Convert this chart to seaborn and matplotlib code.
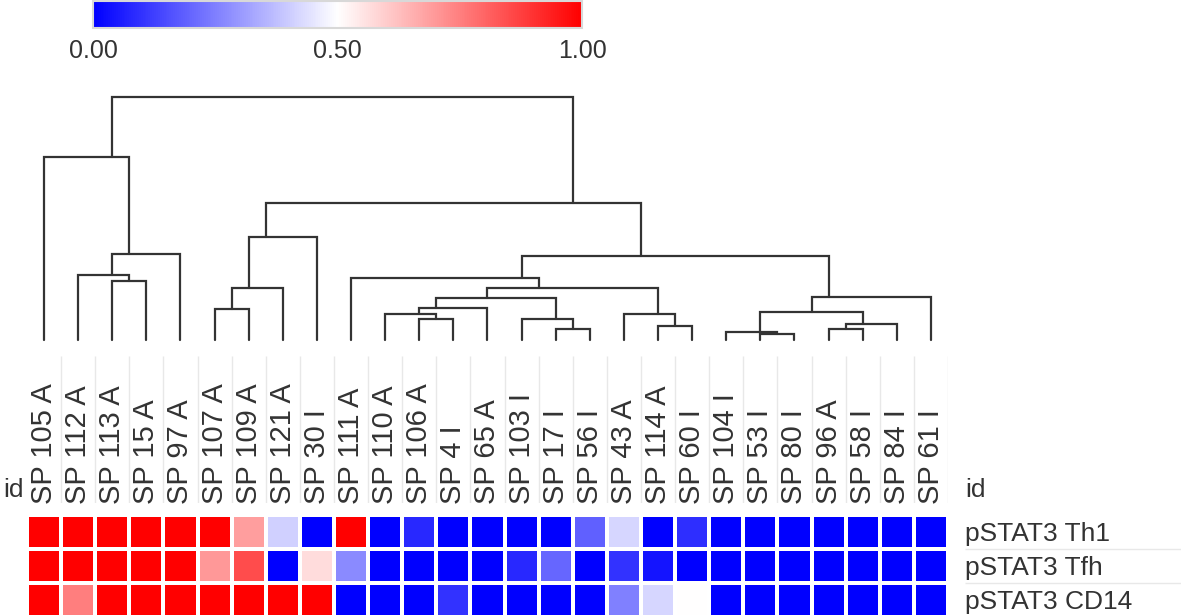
import numpy as np
import pandas as pd
import matplotlib
matplotlib.use("Agg")
import matplotlib.pyplot as plt
import seaborn as sns

# column (sample) order as shown under the dendrogram
samples = ["SP 105 A", "SP 112 A", "SP 113 A", "SP 15 A", "SP 97 A", "SP 107 A",
           "SP 109 A", "SP 121 A", "SP 30 I", "SP 111 A", "SP 110 A", "SP 106 A",
           "SP 4 I", "SP 65 A", "SP 103 I", "SP 17 I", "SP 56 I", "SP 43 A",
           "SP 114 A", "SP 60 I", "SP 104 I", "SP 53 I", "SP 80 I", "SP 96 A",
           "SP 58 I", "SP 84 I", "SP 61 I"]
rows = ["pSTAT3 Th1", "pSTAT3 Tfh", "pSTAT3 CD14"]

th1 = [1, 1, 1, 1, 1, 1, 0.69, 0.41, 0, 1, 0, 0.08, 0, 0, 0, 0, 0.19, 0.42,
       0, 0.09, 0, 0, 0, 0, 0, 0, 0]
tfh = [1, 1, 1, 1, 1, 0.70, 0.85, 0, 0.57, 0.27, 0, 0, 0, 0, 0.08, 0.20, 0,
       0.10, 0.04, 0, 0, 0, 0, 0, 0, 0, 0]
cd14 = [1, 0.75, 1, 1, 1, 1, 1, 1, 1, 0, 0, 0, 0.10, 0, 0, 0, 0, 0.25, 0.42,
        0.5, 0, 0, 0, 0, 0, 0, 0]

# linkage (scipy style): node ids >= 27 are earlier merges, in this order
link_left = [21, 20, 15, 23, 18, 30, 11, 14, 10, 17, 28, 5, 35, 39, 37, 38,
             40, 2, 9, 1, 45, 46, 42, 49, 0, 51]
link_right = [22, 27, 16, 24, 19, 25, 12, 29, 33, 31, 32, 6, 13, 34, 26, 7,
              36, 3, 43, 44, 41, 4, 8, 47, 48, 50]
link_height = [0.026, 0.033, 0.045, 0.045, 0.056, 0.064, 0.086, 0.086, 0.105,
               0.105, 0.116, 0.127, 0.132, 0.173, 0.175, 0.216, 0.216, 0.244,
               0.255, 0.266, 0.345, 0.352, 0.424, 0.563, 0.754, 1.0]

W, H = 1181, 616
TXT = "#333333"


def box(x0, y0, x1, y1):
    # pixel box (top-left origin) -> figure fraction rect
    return [x0 / W, 1 - y1 / H, (x1 - x0) / W, (y1 - y0) / H]


sns.set_style("white")
plt.rcParams["font.family"] = ["Liberation Sans", "DejaVu Sans"]

fig = plt.figure(figsize=(W / 100, H / 100), dpi=100)

ax_hm = fig.add_axes(box(27, 515, 948, 617))
ax_cb = fig.add_axes(box(93, 1, 582, 28))
ax_dg = fig.add_axes(box(27, 97, 948, 340))
ax_sep = fig.add_axes(box(27, 356, 948, 503))
ax_rs = fig.add_axes(box(965, 515, 1181, 617))

df = pd.DataFrame([th1, tfh, cd14], index=rows, columns=samples)

sns.heatmap(df, ax=ax_hm, cmap="bwr", vmin=0, vmax=1, linewidths=1.5,
            linecolor="white", cbar_ax=ax_cb,
            cbar_kws={"orientation": "horizontal", "ticks": [0, 0.5, 1],
                      "format": "%.2f"})

ax_hm.xaxis.tick_top()
ax_hm.yaxis.tick_right()
ax_hm.set_xlabel("")
ax_hm.set_ylabel("")
ax_hm.set_xticks(np.arange(len(samples)) + 0.5)
ax_hm.set_xticklabels(samples, rotation=90, fontsize=21, color=TXT)
ax_hm.set_yticks(np.arange(len(rows)) + 0.5)
ax_hm.set_yticklabels(rows, rotation=0, fontsize=19, color=TXT, ha="left")
ax_hm.tick_params(axis="x", length=0, pad=8, top=True, bottom=False,
                  labeltop=True, labelbottom=False)
ax_hm.tick_params(axis="y", length=0, pad=12, right=True, left=False,
                  labelright=True, labelleft=False)

# colorbar styling
cb = ax_hm.collections[0].colorbar
cb.outline.set_edgecolor("#d8d8d8")
cb.outline.set_linewidth(1.5)
ax_cb.tick_params(length=0, pad=8, labelsize=18, labelcolor=TXT)

# dendrogram from the linkage lists
n = len(samples)
pos = {i: i + 0.5 for i in range(n)}
hgt = {i: 0.0 for i in range(n)}
members = {i: [i] for i in range(n)}
for k, (a, b, h) in enumerate(zip(link_left, link_right, link_height)):
    node = n + k
    xa, xb = pos[a], pos[b]
    ax_dg.plot([xa, xa, xb, xb], [hgt[a], h, h, hgt[b]], color="#333333",
               lw=1.6, solid_joinstyle="miter", clip_on=False)
    members[node] = members[a] + members[b]
    pos[node] = np.mean([m + 0.5 for m in members[node]])
    hgt[node] = h
ax_dg.set_xlim(0, n)
ax_dg.set_ylim(0, 1)
ax_dg.axis("off")

# faint separators between column labels
ax_sep.vlines(np.arange(1, n + 1), 0, 1, color="#e8e8e8", lw=1)
ax_sep.set_xlim(0, n)
ax_sep.set_ylim(0, 1)
ax_sep.axis("off")

# faint separators between row labels
ax_rs.hlines([1, 2], 0, 1, color="#e8e8e8", lw=1)
ax_rs.set_xlim(0, 1)
ax_rs.set_ylim(3, 0)
ax_rs.axis("off")

fig.text(3 / W, 1 - 490 / H, "id", fontsize=19, color=TXT, va="center", ha="left")
fig.text(965 / W, 1 - 490 / H, "id", fontsize=19, color=TXT, va="center", ha="left")

fig.savefig("out.png", dpi=100)
